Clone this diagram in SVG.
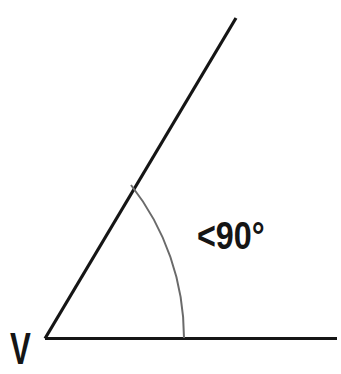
<svg xmlns="http://www.w3.org/2000/svg" width="341" height="374" viewBox="0 0 341 374">
<style>
.ray{stroke:#151515;stroke-width:3.2;fill:none;stroke-linecap:butt}
.arc{stroke:#6a6a6a;stroke-width:2;fill:none}
.lbl{font-family:"Liberation Sans",Arial,sans-serif;font-weight:bold;fill:#151515}
</style>
<rect width="341" height="374" fill="#ffffff"/>
<g id="connectors">
<line class="ray" x1="45" y1="338.5" x2="337" y2="338.5"/>
<line class="ray" x1="45" y1="338.5" x2="236" y2="18"/>
<path class="arc" d="M131 185 A247 247 0 0 1 184 338"/>
</g>
<g id="vertex">
<text class="lbl" font-size="40" transform="translate(10,364) scale(0.78,1.1)">V</text>
</g>
<g id="angle-label">
<text class="lbl" font-size="38" transform="translate(197,249) scale(0.85,1)">&lt;90°</text>
</g>
</svg>
